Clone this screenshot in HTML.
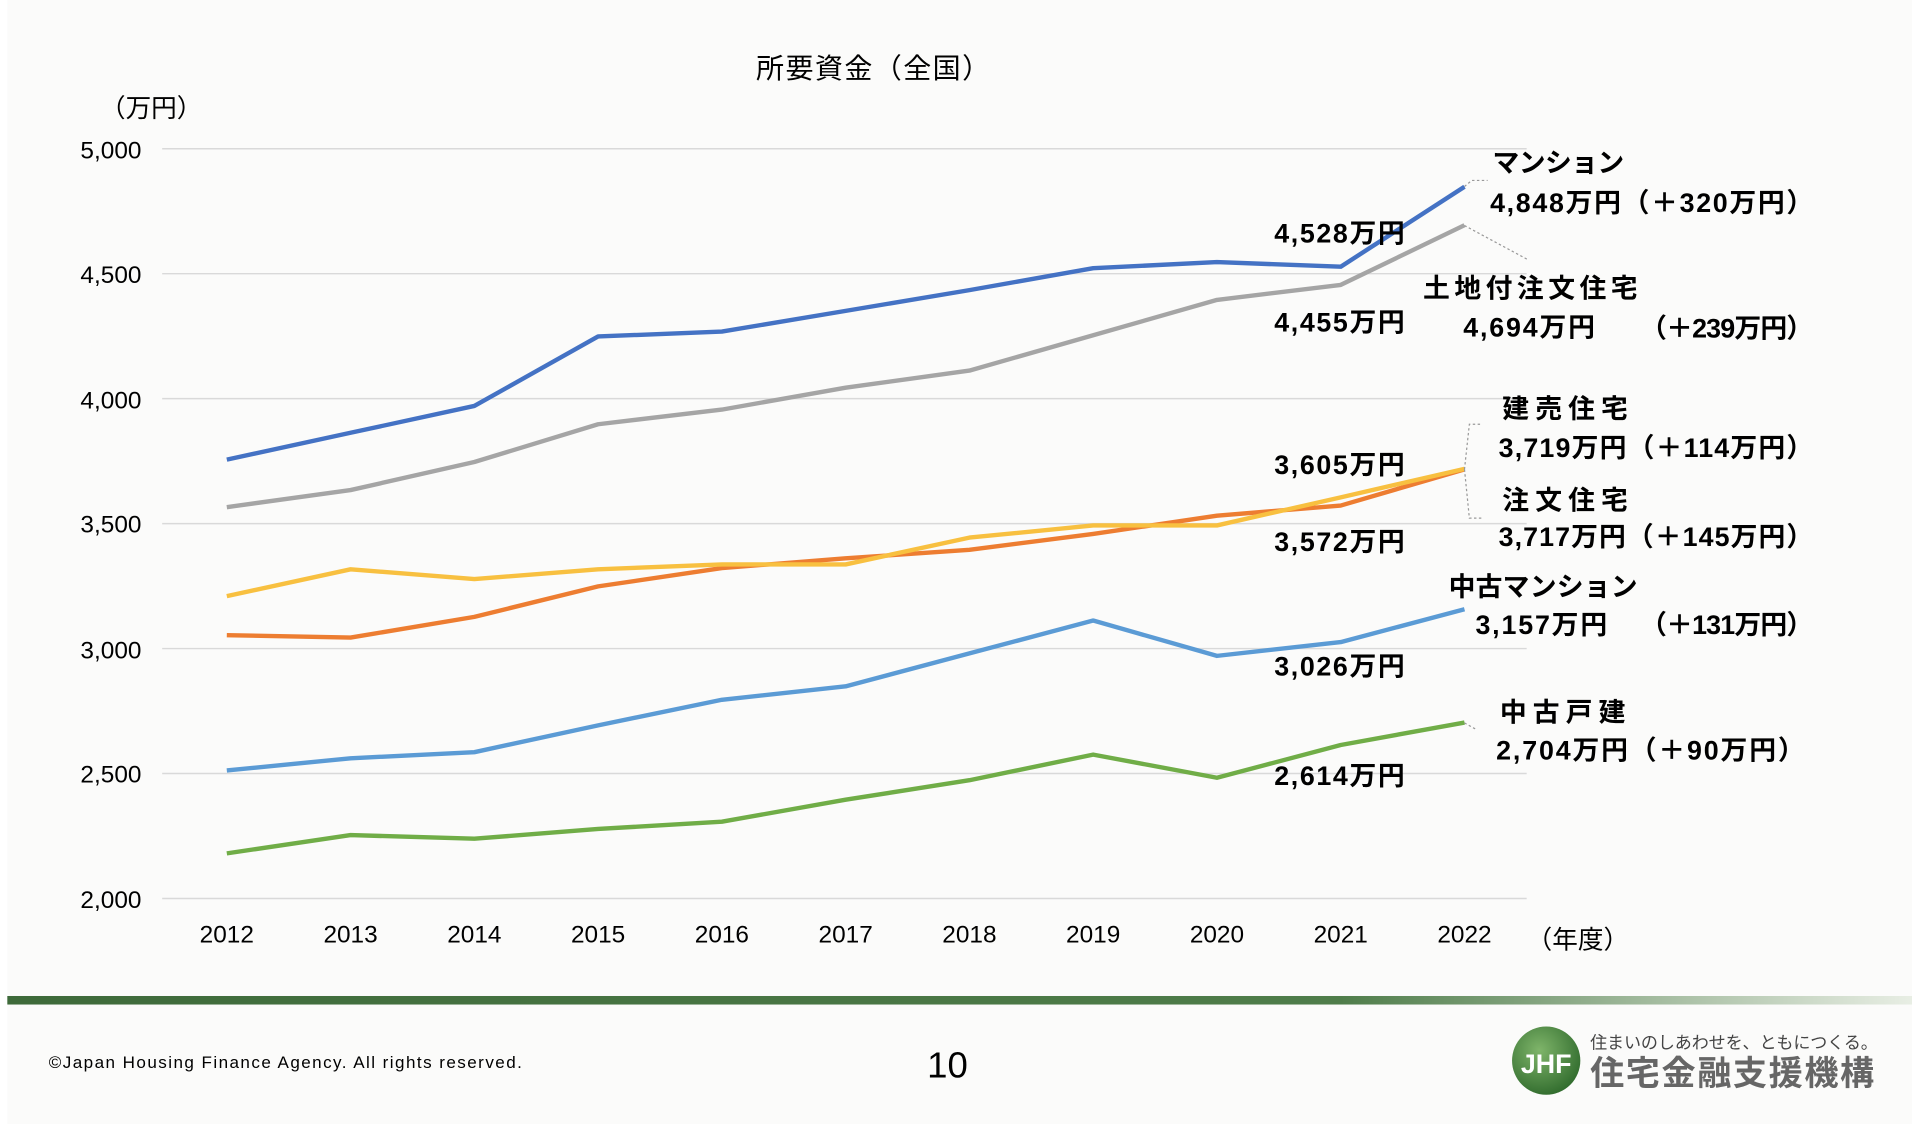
<!DOCTYPE html>
<html><head><meta charset="utf-8"><style>
html,body{margin:0;padding:0;background:#fbfbfa;}
svg{display:block}
text{font-family:"Liberation Sans","Noto Sans CJK JP",sans-serif;fill:#000}
.b{font-weight:bold;font-size:22px}
.t{font-size:20px;fill:#222}
</style></head><body>
<svg width="1912" height="1124" viewBox="0 0 1568 922" preserveAspectRatio="none" xmlns="http://www.w3.org/2000/svg">
<defs><linearGradient id="g" x1="0" x2="1"><stop offset="0" stop-color="#3e6a3a"/><stop offset="0.7" stop-color="#4f7d4a"/><stop offset="1" stop-color="#e8eee4"/></linearGradient>
<radialGradient id="c" cx="0.4" cy="0.35" r="0.7"><stop offset="0" stop-color="#7fb56a"/><stop offset="1" stop-color="#2f6a2c"/></radialGradient></defs>
<rect width="1568" height="922" fill="#fbfbfa"/>
<rect width="6" height="922" fill="#ffffff"/>
<text x="716" y="64" text-anchor="middle" font-size="23" textLength="192">所要資金（全国）</text>
<text x="82" y="96" font-size="21">（万円）</text>
<g stroke="#d9d9d9" stroke-width="1.2">
<line x1="133" x2="1252" y1="122" y2="122"/><line x1="133" x2="1252" y1="224.5" y2="224.5"/><line x1="133" x2="1252" y1="327" y2="327"/><line x1="133" x2="1252" y1="429.5" y2="429.5"/><line x1="133" x2="1252" y1="532" y2="532"/><line x1="133" x2="1252" y1="634.5" y2="634.5"/><line x1="133" x2="1252" y1="737" y2="737"/>
</g>
<g class="t" text-anchor="end">
<text x="116" y="130">5,000</text><text x="116" y="232">4,500</text><text x="116" y="335">4,000</text><text x="116" y="437">3,500</text><text x="116" y="540">3,000</text><text x="116" y="642">2,500</text><text x="116" y="745">2,000</text>
</g>
<g class="t" text-anchor="middle">
<text x="186" y="773">2012</text><text x="287.5" y="773">2013</text><text x="389" y="773">2014</text><text x="490.5" y="773">2015</text><text x="592" y="773">2016</text><text x="693.5" y="773">2017</text><text x="795" y="773">2018</text><text x="896.5" y="773">2019</text><text x="998" y="773">2020</text><text x="1099.5" y="773">2021</text><text x="1201" y="773">2022</text>
</g>
<text x="1252" y="778" font-size="21">（年度）</text>
<g fill="none" stroke-width="3.6" stroke-linejoin="round">
<polyline stroke="#A5A5A5" points="186,416 287.5,402 389,379 490.5,348 592,336 693.5,318 795,304 896.5,275 998,246 1099.5,233.7 1201,184.7"/>
<polyline stroke="#4472C4" points="186,377 287.5,355 389,333 490.5,276 592,272 693.5,255 795,238 896.5,220 998,215 1099.5,218.8 1201,153.2"/>
<polyline stroke="#ED7D31" points="186,521 287.5,523 389,506 490.5,481 592,466 693.5,458 795,451 896.5,438 998,423 1099.5,414.7 1201,385"/>
<polyline stroke="#F8C040" points="186,489 287.5,467 389,475 490.5,467 592,463 693.5,463 795,441 896.5,431 998,431 1099.5,408 1201,384.6"/>
<polyline stroke="#5B9BD5" points="186,632 287.5,622 389,617 490.5,595 592,574 693.5,563 795,536 896.5,509 998,538 1099.5,526.7 1201,499.8"/>
<polyline stroke="#70AD47" points="186,700 287.5,685 389,688 490.5,680 592,674 693.5,656 795,640 896.5,619 998,638 1099.5,611.1 1201,592.7"/>
</g>
<g fill="none" stroke="#999" stroke-width="1" stroke-dasharray="2,2">
<polyline points="1201,153 1207,148 1220,148"/>
<polyline points="1201,185 1253,213"/>
<polyline points="1201,385 1205,348 1215,348"/>
<polyline points="1201,385 1205,425 1215,425"/>
<polyline points="1201,593 1210,598"/>
</g>
<g class="b">
<text x="1224" y="141" textLength="108">マンション</text>
<text x="1222" y="174" textLength="265">4,848万円（＋320万円）</text>
<text x="1045" y="199" textLength="107">4,528万円</text>
<text x="1167" y="244" textLength="176">土地付注文住宅</text>
<text x="1045" y="272" textLength="107">4,455万円</text>
<text x="1200" y="276" textLength="108">4,694万円</text>
<text x="1345" y="277" textLength="142">（＋239万円）</text>
<text x="1232" y="343" textLength="103">建売住宅</text>
<text x="1229" y="375" textLength="258">3,719万円（＋114万円）</text>
<text x="1045" y="389" textLength="107">3,605万円</text>
<text x="1232" y="418" textLength="103">注文住宅</text>
<text x="1229" y="448" textLength="258">3,717万円（＋145万円）</text>
<text x="1045" y="452" textLength="107">3,572万円</text>
<text x="1188" y="489" textLength="155">中古マンション</text>
<text x="1210" y="520" textLength="108">3,157万円</text>
<text x="1345" y="520" textLength="142">（＋131万円）</text>
<text x="1045" y="554" textLength="107">3,026万円</text>
<text x="1230" y="592" textLength="103">中古戸建</text>
<text x="1227" y="623" textLength="253">2,704万円（＋90万円）</text>
<text x="1045" y="644" textLength="107">2,614万円</text>
</g>
<rect x="6" y="817" width="1562" height="7" fill="url(#g)"/>
<text x="40" y="876" font-size="14" fill="#333" textLength="388">©Japan Housing Finance Agency. All rights reserved.</text>
<text x="777" y="884" font-size="30" text-anchor="middle">10</text>
<circle cx="1268" cy="870" r="28" fill="url(#c)"/>
<text x="1268" y="880" font-size="22" font-weight="bold" text-anchor="middle" style="fill:#fff">JHF</text>
<text x="1304" y="860" font-size="14" style="fill:#444" textLength="236">住まいのしあわせを、ともにつくる。</text>
<text x="1304" y="890" font-size="28" font-weight="bold" style="fill:#666" textLength="233">住宅金融支援機構</text>
</svg>
</body></html>
